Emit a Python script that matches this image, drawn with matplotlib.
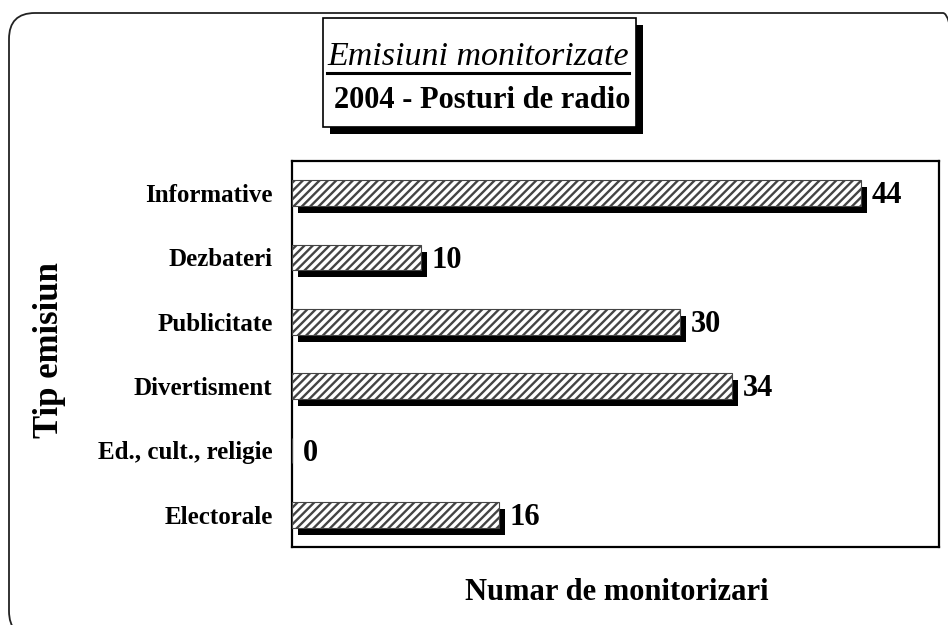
import matplotlib
matplotlib.use("Agg")
import matplotlib.pyplot as plt
from matplotlib.patches import FancyBboxPatch, Rectangle
from matplotlib.transforms import ScaledTranslation
from matplotlib.lines import Line2D

plt.rcParams['font.family'] = ['Liberation Serif', 'DejaVu Serif']
plt.rcParams['hatch.linewidth'] = 1.7

# data
categories = ['Informative', 'Dezbateri', 'Publicitate', 'Divertisment',
              'Ed., cult., religie', 'Electorale']
values = [44, 10, 30, 34, 0, 16]
title1 = 'Emisiuni monitorizate'
title2 = '2004 - Posturi de radio'
xlabel = 'Numar de monitorizari'
ylabel = 'Tip emisiun'

fig = plt.figure(figsize=(9.48, 6.25), dpi=100)
inch = fig.dpi_scale_trans

# rounded outer frame (runs off the right and bottom edges)
frame = FancyBboxPatch((0.09, -0.12), 9.6, 6.24,
                       boxstyle="round,pad=0,rounding_size=0.26",
                       transform=inch, facecolor='none', edgecolor='#222222',
                       linewidth=1.3, zorder=0)
fig.patches.append(frame)

ax = fig.add_axes([292/948, 1 - 547/625, (939 - 292)/948, (547 - 161)/625])
ax.set_facecolor('none')
ax.set_zorder(1)

pos = list(range(len(categories)))
shadow = ScaledTranslation(6/100, -7/100, inch)
ax.barh(pos, values, height=0.40, color='black', linewidth=0,
        transform=ax.transData + shadow, zorder=2)
ax.barh(pos, values, height=0.40, facecolor='white', edgecolor='#444444',
        hatch='////', linewidth=0.8, zorder=3)

for p, v in zip(pos, values):
    ax.annotate(str(v), (v, p), xytext=(7.5, -2), textcoords='offset points',
                va='center', ha='left', fontsize=22, fontweight='bold')

ax.set_xlim(0, 50)
ax.set_ylim(len(categories) - 0.5, -0.5)
ax.set_yticks(pos)
ax.set_yticklabels(categories, fontsize=18, fontweight='bold')
ax.tick_params(axis='y', length=0, pad=14)
ax.set_xticks([])
for s in ax.spines.values():
    s.set_linewidth(1.6)

# title box with shadow
bx, by, bw, bh = 3.23, 6.25 - 1.27, 3.13, 1.09
fig.patches.append(Rectangle((bx + 0.07, by - 0.07), bw, bh, transform=inch,
                             facecolor='black', edgecolor='none', zorder=1))
fig.patches.append(Rectangle((bx, by), bw, bh, transform=inch,
                             facecolor='white', edgecolor='black',
                             linewidth=1.2, zorder=2))

t1 = fig.text(478/948, 1 - 65/625, title1, ha='center', va='baseline',
              fontsize=24.5, fontstyle='italic', zorder=3)
fig.text(482/948, 1 - 108/625, title2, ha='center', va='baseline',
         fontsize=22, fontweight='bold', zorder=3)

# underline for first title line
fig.canvas.draw()
bb = t1.get_window_extent(fig.canvas.get_renderer())
uy = 625 - 73
fig.lines.append(Line2D([bb.x0 / 948, bb.x1 / 948], [uy / 625, uy / 625],
                        transform=fig.transFigure, color='black',
                        linewidth=2.2, zorder=3))

fig.text(617/948, 1 - 592/625, xlabel, ha='center', va='center',
         fontsize=22, fontweight='bold')
fig.text(50/948, 1 - 350/625, ylabel, ha='center', va='center',
         rotation=90, fontsize=25, fontweight='bold')

fig.savefig('out.png', dpi=100)
